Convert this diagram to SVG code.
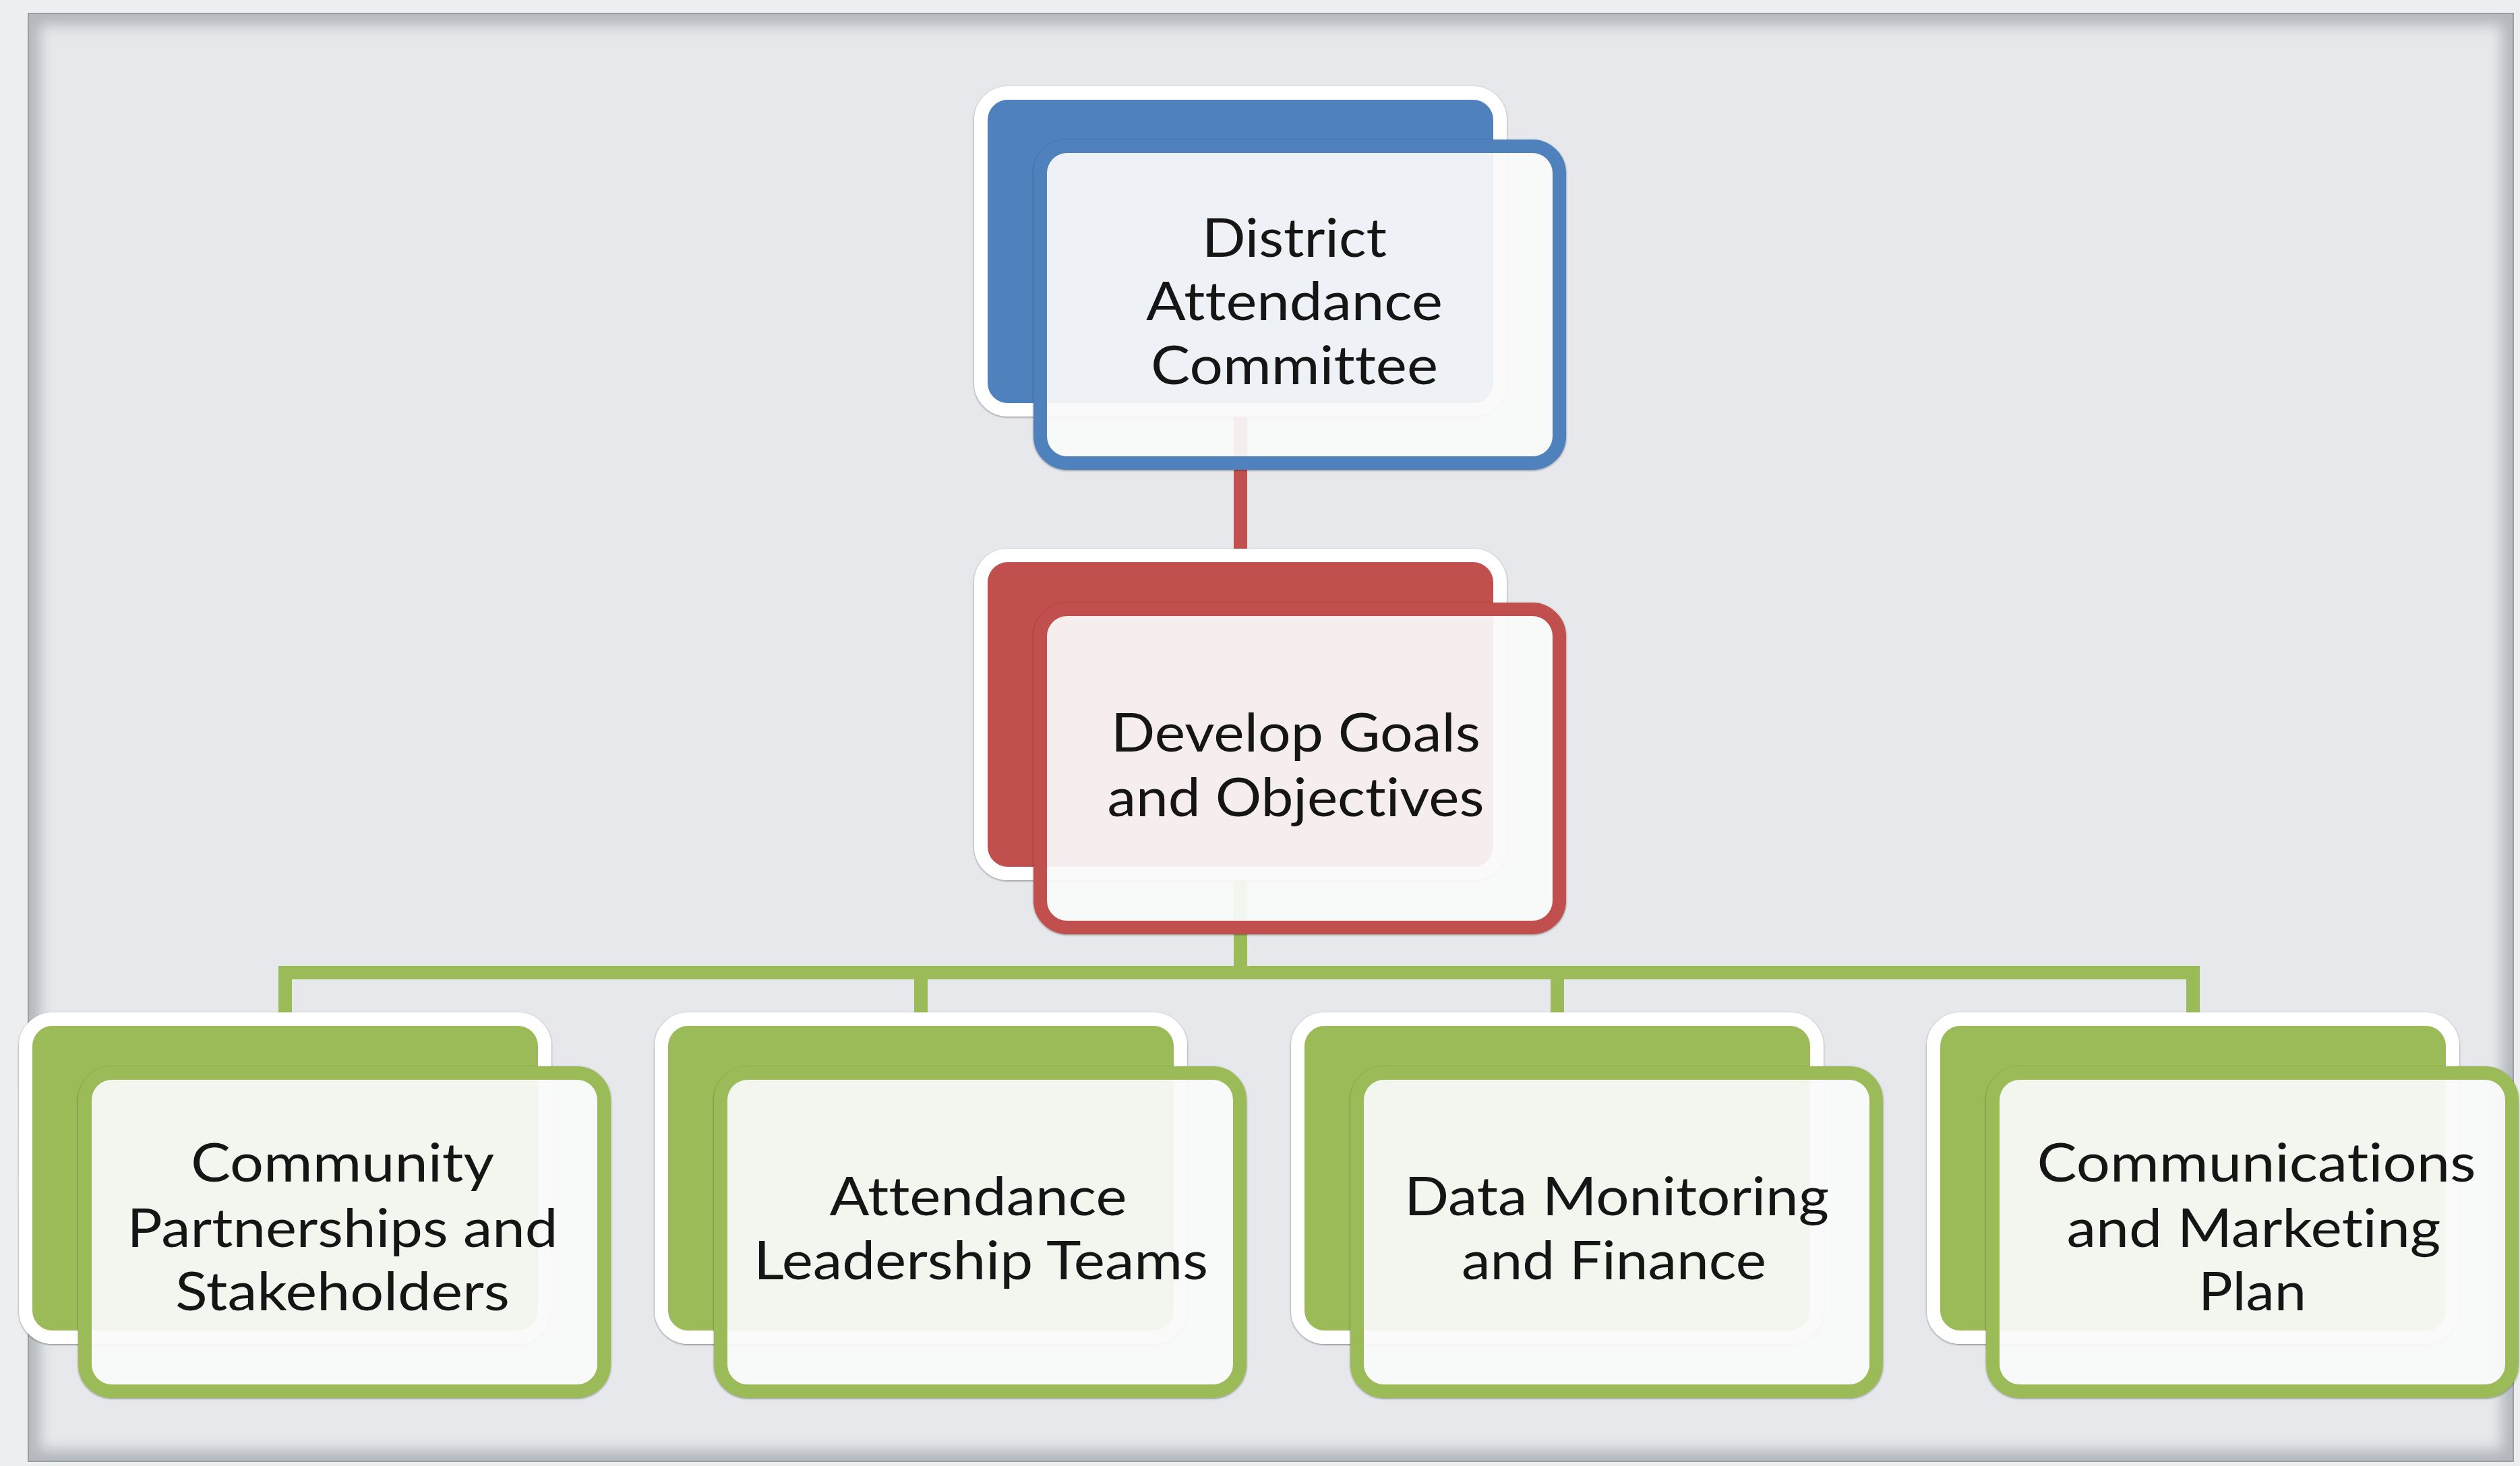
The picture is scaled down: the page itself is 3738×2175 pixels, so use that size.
<svg xmlns="http://www.w3.org/2000/svg" width="3738" height="2175" viewBox="0 0 3738 2175">
  <style>
    .lbl { font-family: Lato, "Open Sans", "Liberation Sans", sans-serif; font-size: 79px; fill: #151515; text-anchor: middle; font-variant-ligatures: none; font-feature-settings: "liga" 0, "dlig" 0; }
    .back { stroke: #ffffff; stroke-width: 20; }
    .front { fill: #ffffff; fill-opacity: 0.89; stroke-width: 20; }
    .blue .back { fill: #4f81bd; } .blue .front { stroke: #4f81bd; }
    .red .back { fill: #c0504d; } .red .front { stroke: #c0504d; }
    .green .back { fill: #9bbb59; } .green .front { stroke: #9bbb59; }
    .conn { fill: none; stroke-width: 20; stroke-linejoin: miter; stroke-linecap: butt; }
  </style>
  <defs>
    <clipPath id="panelClip"><rect x="42" y="20" width="3686" height="2148"/></clipPath>
    <filter id="soft" x="-10%" y="-10%" width="120%" height="120%"><feGaussianBlur stdDeviation="10"/></filter>
    <filter id="edge" x="-5%" y="-5%" width="110%" height="115%">
      <feDropShadow dx="0" dy="1" stdDeviation="1.5" flood-color="#000000" flood-opacity="0.45"/>
    </filter>
  </defs>

  <!-- background and panel -->
  <rect x="0" y="0" width="3738" height="2175" fill="#eceef0"/>
  <rect x="42" y="20" width="3686" height="2148" fill="#e6e8eb"/>
  <g clip-path="url(#panelClip)">
    <rect x="42" y="20" width="3686" height="2148" fill="none" stroke="#b3b7bb" stroke-width="34" filter="url(#soft)"/>
  </g>
  <rect x="42" y="20" width="3686" height="2148" fill="none" stroke="#9a9ea3" stroke-width="2"/>

  <!-- connectors -->
  <g id="connectors">
    <line class="conn" x1="1840" y1="600" x2="1840" y2="830" stroke="#c0504d"/>
    <path class="conn" stroke="#9bbb59" d="M1840,1290 V1443 M423,1515 V1443 H3253 V1515 M1366,1443 V1515 M2310,1443 V1515"/>
  </g>

  <!-- top node -->
  <g id="node-district" class="blue">
    <rect class="back" x="1455" y="138" width="770" height="470" rx="40" filter="url(#edge)"/>
    <rect class="front" x="1543" y="217" width="770" height="470" rx="40" filter="url(#edge)"/>
    <text class="lbl" x="1920" y="381" textLength="274" lengthAdjust="spacingAndGlyphs">District</text>
    <text class="lbl" x="1920" y="475" textLength="440" lengthAdjust="spacingAndGlyphs">Attendance</text>
    <text class="lbl" x="1920" y="570" textLength="426" lengthAdjust="spacingAndGlyphs">Committee</text>
  </g>

  <!-- middle node -->
  <g id="node-goals" class="red">
    <rect class="back" x="1455" y="824" width="770" height="472" rx="40" filter="url(#edge)"/>
    <rect class="front" x="1543" y="904" width="770" height="472" rx="40" filter="url(#edge)"/>
    <text class="lbl" x="1922" y="1115" textLength="548" lengthAdjust="spacingAndGlyphs">Develop Goals</text>
    <text class="lbl" x="1922" y="1211" textLength="559" lengthAdjust="spacingAndGlyphs">and Objectives</text>
  </g>

  <!-- bottom nodes -->
  <g id="node-community" class="green">
    <rect class="back" x="38" y="1512" width="770" height="472" rx="40" filter="url(#edge)"/>
    <rect class="front" x="126" y="1592" width="770" height="472" rx="40" filter="url(#edge)"/>
    <text class="lbl" x="508" y="1753" textLength="450" lengthAdjust="spacingAndGlyphs">Community</text>
    <text class="lbl" x="508" y="1850" textLength="639" lengthAdjust="spacingAndGlyphs">Partnerships and</text>
    <text class="lbl" x="508" y="1944" textLength="496" lengthAdjust="spacingAndGlyphs">Stakeholders</text>
  </g>

  <g id="node-leadership" class="green">
    <rect class="back" x="981" y="1512" width="770" height="472" rx="40" filter="url(#edge)"/>
    <rect class="front" x="1069" y="1592" width="770" height="472" rx="40" filter="url(#edge)"/>
    <text class="lbl" x="1451" y="1803" textLength="441" lengthAdjust="spacingAndGlyphs">Attendance</text>
    <text class="lbl" x="1455" y="1898" textLength="674" lengthAdjust="spacingAndGlyphs">Leadership Teams</text>
  </g>

  <g id="node-data" class="green">
    <rect class="back" x="1925" y="1512" width="770" height="472" rx="40" filter="url(#edge)"/>
    <rect class="front" x="2013" y="1592" width="770" height="472" rx="40" filter="url(#edge)"/>
    <text class="lbl" x="2398" y="1803" textLength="630" lengthAdjust="spacingAndGlyphs">Data Monitoring</text>
    <text class="lbl" x="2394" y="1898" textLength="452" lengthAdjust="spacingAndGlyphs">and Finance</text>
  </g>

  <g id="node-communications" class="green">
    <rect class="back" x="2868" y="1512" width="770" height="472" rx="40" filter="url(#edge)"/>
    <rect class="front" x="2956" y="1592" width="770" height="472" rx="40" filter="url(#edge)"/>
    <text class="lbl" x="3347" y="1753" textLength="651" lengthAdjust="spacingAndGlyphs">Communications</text>
    <text class="lbl" x="3343" y="1850" textLength="555" lengthAdjust="spacingAndGlyphs">and Marketing</text>
    <text class="lbl" x="3341" y="1944" textLength="160" lengthAdjust="spacingAndGlyphs">Plan</text>
  </g>
</svg>
